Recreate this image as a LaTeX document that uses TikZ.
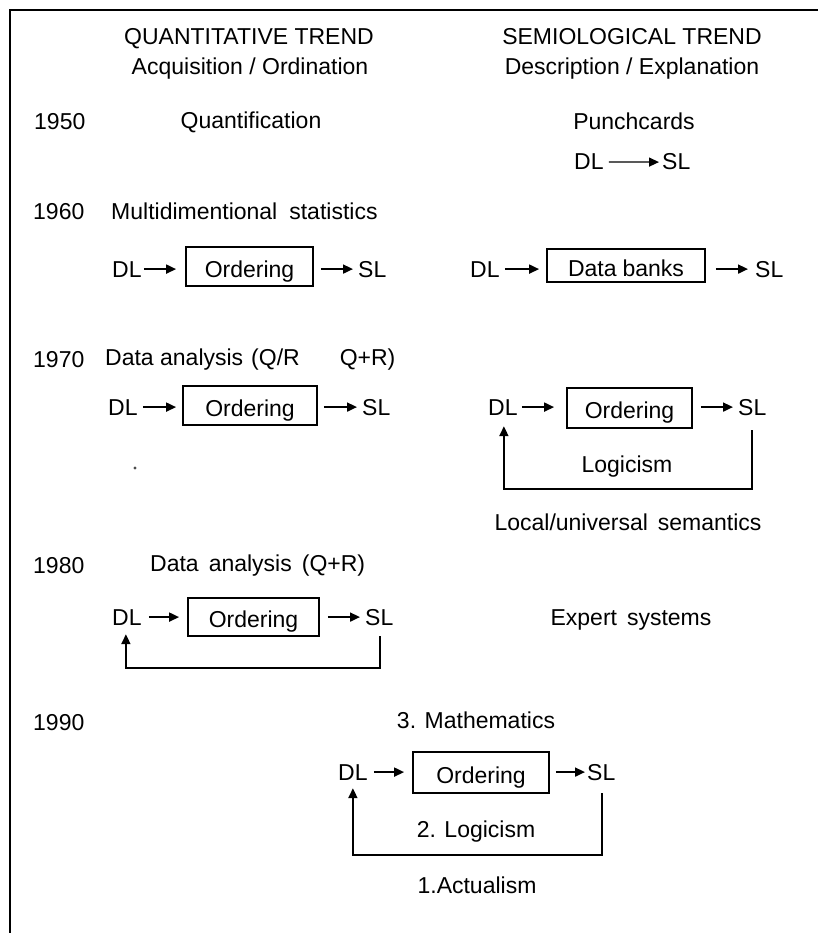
\documentclass[tikz,border=0pt]{standalone}
\usepackage{fontspec}
\setmainfont{Liberation Sans}
\usetikzlibrary{arrows.meta}
\begin{document}
\begin{tikzpicture}[x=1pt,y=-1pt,
  lbl/.style={font=\fontsize{23}{28}\selectfont, inner sep=0pt},
  ctr/.style={lbl, anchor=base},
  lft/.style={lbl, anchor=base west},
  term/.style={lbl, anchor=base west},
  ordbox/.style={draw, line width=1.8pt, font=\fontsize{23}{28}\selectfont, inner sep=0pt, text height=21pt, text depth=0pt},
  arr/.style={line width=1.8pt, -{Triangle[length=10pt,width=9pt]}},
  loop/.style={line width=1.8pt, -{Triangle[length=10pt,width=9pt]}},
  frame/.style={line width=2pt}
]
\useasboundingbox (0,0) rectangle (818,933);
\fill[white] (0,0) rectangle (818,933);
% frame
\coordinate (fTL) at (10,10);
\coordinate (fTR) at (818,10);
\coordinate (fBL) at (10,933);
\draw[frame] (fTR) -- (fTL) -- (fBL);

% headings
\node[ctr] (qt) at (249,45) {QUANTITATIVE TREND};
\node[ctr] (qa) at (250,75) {Acquisition / Ordination};
\node[ctr] (st) at (632,45) {SEMIOLOGICAL TREND};
\node[ctr] (sd) at (632,75) {Description / Explanation};

% 1950
\node[lft] (y1950) at (34,130) {1950};
\node[ctr] (quant) at (251,129) {Quantification};
\node[ctr] (punch) at (634,130) {Punchcards};
\node[term] (dlA) at (574,170) {DL};
\node[term] (slA) at (662,170) {SL};
\draw[line width=1.3pt, -{Triangle[length=10pt,width=9pt]}] ([xshift=5pt]dlA.east) -- ([xshift=-3pt]slA.west);

% 1960
\node[lft] (y1960) at (33,220) {1960};
\node[lft] (multi) at (111,219) {Multidimentional\hspace{12pt}statistics};
\node[term] (dlB) at (112,277) {DL};
\node[ordbox, minimum width=127pt, minimum height=39pt] (boxB) at (249.5,266.5) {Ordering};
\node[term] (slB) at (358,277) {SL};
\draw[arr] ([xshift=2pt]dlB.east) -- ([xshift=-9pt]boxB.west |- dlB.east);
\draw[arr] ([xshift=7pt]boxB.east |- slB.west) -- ([xshift=-5pt]slB.west);
\node[term] (dlC) at (470,277) {DL};
\node[ordbox, minimum width=158pt, minimum height=33pt] (boxC) at (626,265.5) {Data\hspace{6pt}banks};
\node[term] (slC) at (755,277) {SL};
\draw[arr] ([xshift=5pt]dlC.east) -- ([xshift=-7pt]boxC.west |- dlC.east);
\draw[arr] ([xshift=10pt]boxC.east |- slC.west) -- ([xshift=-7pt]slC.west);

% 1970
\node[lft] (y1970) at (33,367) {1970};
\node[lft] (da1) at (105,365) {Data analysis\hspace{8pt}(Q/R\hspace{40pt}Q+R)};
\node[term] (dlD) at (108,415) {DL};
\node[ordbox, minimum width=134pt, minimum height=39pt] (boxD) at (250,405.5) {Ordering};
\node[term] (slD) at (362,415) {SL};
\draw[arr] ([xshift=5pt]dlD.east) -- ([xshift=-6pt]boxD.west |- dlD.east);
\draw[arr] ([xshift=6pt]boxD.east |- slD.west) -- ([xshift=-5pt]slD.west);
\fill[black!70] (135,468) circle (1.6pt);

\node[term] (dlE) at (488,415) {DL};
\node[ordbox, minimum width=125pt, minimum height=40pt] (boxE) at (629.5,408) {Ordering};
\node[term] (slE) at (738,415) {SL};
\draw[arr] ([xshift=4pt]dlE.east) -- ([xshift=-12pt]boxE.west |- dlE.east);
\draw[arr] ([xshift=8pt]boxE.east |- slE.west) -- ([xshift=-5pt]slE.west);
\coordinate (cE) at (0,489);
\draw[loop] ([yshift=-15pt]slE.south) -- (slE.south |- cE) -| ([xshift=1pt,yshift=-11pt]dlE.south);
\node[ctr] (logE) at (627,472) {Logicism};
\node[ctr] (sem) at (628,530) {Local/universal\hspace{10pt}semantics};

% 1980
\node[lft] (y1980) at (33,573) {1980};
\node[lft] (da2) at (150,571) {Data\hspace{10pt}analysis\hspace{10pt}(Q+R)};
\node[term] (dlF) at (112,625) {DL};
\node[ordbox, minimum width=131pt, minimum height=38pt] (boxF) at (253.5,617) {Ordering};
\node[term] (slF) at (365,625) {SL};
\draw[arr] ([xshift=7pt]dlF.east) -- ([xshift=-8pt]boxF.west |- dlF.east);
\draw[arr] ([xshift=8pt]boxF.east |- slF.west) -- ([xshift=-5pt]slF.west);
\coordinate (cF) at (0,668);
\draw[loop] ([xshift=1pt,yshift=-11pt]slF.south) -- ([xshift=1pt]slF.south |- cF) -| ([xshift=-1pt,yshift=-9pt]dlF.south);
\node[ctr] (expert) at (631,625) {Expert\hspace{10pt}systems};

% 1990
\node[lft] (y1990) at (33,730) {1990};
\node[ctr] (math) at (476,728) {3. Mathematics};
\node[term] (dlG) at (338,780) {DL};
\node[ordbox, minimum width=136pt, minimum height=41pt] (boxG) at (481,772.5) {Ordering};
\node[term] (slG) at (587,780) {SL};
\draw[arr] ([xshift=6pt]dlG.east) -- ([xshift=-8pt]boxG.west |- dlG.east);
\draw[arr] ([xshift=6pt]boxG.east |- slG.west) -- ([xshift=-2pt]slG.west);
\coordinate (cG) at (0,855);
\draw[loop] ([xshift=1pt,yshift=-13pt]slG.south) -- ([xshift=1pt]slG.south |- cG) -| ([yshift=-8pt]dlG.south);
\node[ctr] (logG) at (476,837) {2. Logicism};
\node[ctr] (act) at (477,893) {1.Actualism};
\end{tikzpicture}
\end{document}
